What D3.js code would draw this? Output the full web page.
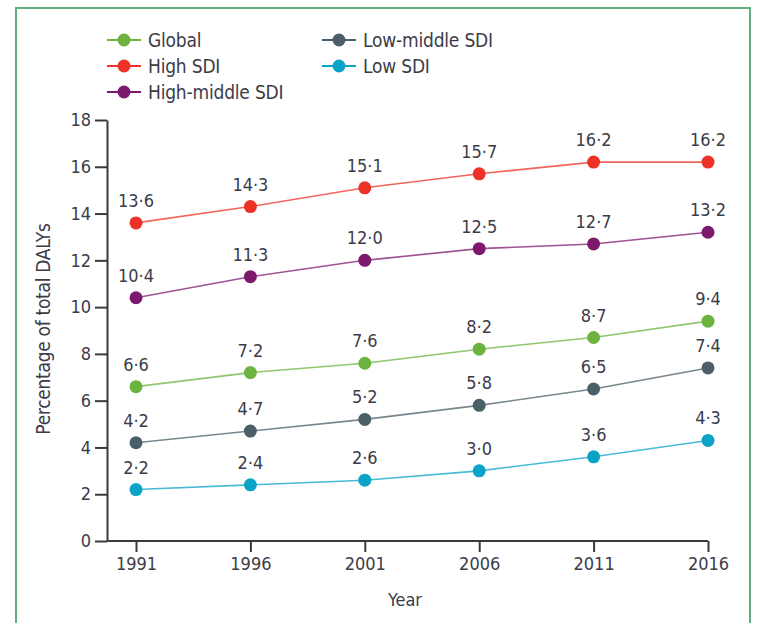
<!DOCTYPE html>
<html>
<head>
<meta charset="utf-8">
<script src="https://cdn.jsdelivr.net/npm/d3@7"></script>
<style>
html,body{margin:0;padding:0;background:#fff;}
svg{display:block;}
text{font-family:'DejaVu Sans Condensed',sans-serif;}
</style>
</head>
<body>
<svg id="chart" width="757" height="623"></svg>
<script>
const years = [1991, 1996, 2001, 2006, 2011, 2016];
const seriesNames = ["Global", "High SDI", "High-middle SDI", "Low-middle SDI", "Low SDI"];
const seriesColors = ["#6cb33f", "#ec3226", "#7d1a6e", "#4b5f68", "#0ba3c8"];
const globalVals = [6.6, 7.2, 7.6, 8.2, 8.7, 9.4];
const highVals = [13.6, 14.3, 15.1, 15.7, 16.2, 16.2];
const highMiddleVals = [10.4, 11.3, 12.0, 12.5, 12.7, 13.2];
const lowMiddleVals = [4.2, 4.7, 5.2, 5.8, 6.5, 7.4];
const lowVals = [2.2, 2.4, 2.6, 3.0, 3.6, 4.3];
const yTicks = [0, 2, 4, 6, 8, 10, 12, 14, 16, 18];
const allVals = [globalVals, highVals, highMiddleVals, lowMiddleVals, lowVals];

const svg = d3.select("#chart");
const fmt = v => d3.format(".1f")(v).replace(".", "\u00B7");

// frame
svg.append("rect").attr("x", 16).attr("y", 8).attr("width", 734).attr("height", 640)
  .attr("fill", "none").attr("stroke", "#62ad82").attr("stroke-width", 2);

const x = d3.scalePoint().domain(years).range([136, 708]);
const y = d3.scaleLinear().domain([0, 18]).range([541, 120]);

const axisColor = "#3a3a3a";
const textColor = "#3c3c48";

// y axis
const yAxis = svg.append("g").attr("transform", "translate(107,0)")
  .call(d3.axisLeft(y).tickValues(yTicks).tickSize(12).tickPadding(4).tickSizeOuter(0));
// x axis
const xAxis = svg.append("g").attr("transform", "translate(0,541)")
  .call(d3.axisBottom(x).tickSize(11).tickPadding(5).tickFormat(d3.format("d")));
xAxis.select(".domain").attr("d", "M107,0H708");
[yAxis, xAxis].forEach(g => {
  g.selectAll("path,line").attr("stroke", axisColor).attr("stroke-width", 2);
  g.selectAll("text").attr("fill", textColor).attr("font-size", 18)
    .attr("font-family", "'DejaVu Sans Condensed',sans-serif");
});

svg.append("text").attr("x", 405).attr("y", 606).attr("text-anchor", "middle")
  .attr("fill", textColor).attr("font-size", 18).text("Year");
svg.append("text").attr("transform", "translate(50,329) rotate(-90)").attr("text-anchor", "middle")
  .attr("fill", textColor).attr("font-size", 19).attr("letter-spacing", -0.3).text("Percentage of total DALYs");

const line = d3.line().x((d, i) => x(years[i])).y(d => y(d));

allVals.forEach((vals, si) => {
  const g = svg.append("g");
  g.append("path").datum(vals).attr("d", line).attr("fill", "none")
    .attr("stroke", seriesColors[si]).attr("stroke-width", 1.6).attr("opacity", 0.75);
  g.selectAll("circle").data(vals).join("circle")
    .attr("cx", (d, i) => x(years[i])).attr("cy", d => y(d)).attr("r", 6.5)
    .attr("fill", seriesColors[si]);
  g.selectAll("text").data(vals).join("text")
    .attr("x", (d, i) => x(years[i])).attr("y", d => y(d) - 16)
    .attr("text-anchor", "middle").attr("fill", textColor).attr("font-size", 18)
    .text(d => fmt(d));
});

// legend
const legendPos = [[124, 40], [124, 66], [124, 92], [339, 40], [339, 66]];
seriesNames.forEach((name, i) => {
  const [cx, cy] = legendPos[i];
  const g = svg.append("g");
  g.append("line").attr("x1", cx - 17).attr("x2", cx + 17).attr("y1", cy).attr("y2", cy)
    .attr("stroke", seriesColors[i]).attr("stroke-width", 2);
  g.append("circle").attr("cx", cx).attr("cy", cy).attr("r", 6.5).attr("fill", seriesColors[i]);
  g.append("text").attr("x", cx + 24).attr("y", cy + 7).attr("fill", textColor)
    .attr("font-size", 19).attr("letter-spacing", -0.2).text(name);
});
</script>
</body>
</html>
